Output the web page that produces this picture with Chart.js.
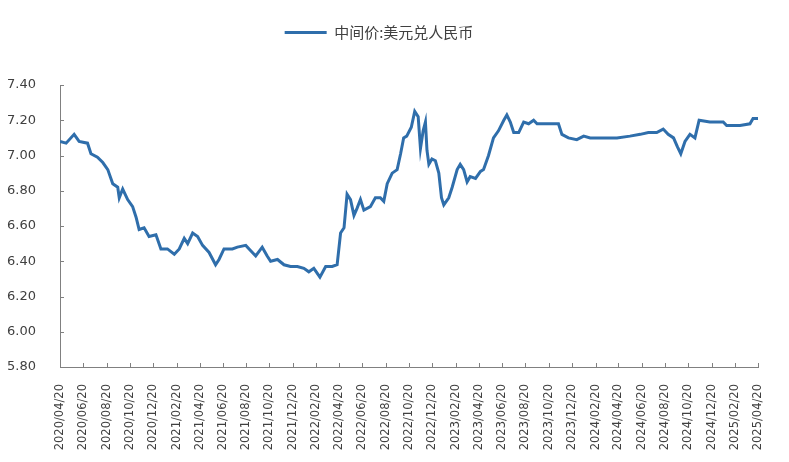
<!DOCTYPE html>
<html>
<head>
<meta charset="utf-8">
<script src="https://cdn.jsdelivr.net/npm/chart.js@4.4.1/dist/chart.umd.min.js"></script>
<style>
  body { margin: 0; background: #fff; }
  canvas { display: block; }
</style>
</head>
<body>
<canvas id="fx" width="789" height="462"></canvas>
<script>
// 中间价:美元兑人民币
var dates = [
  '2020/04/20','2020/05/06','2020/05/27','2020/06/09','2020/07/01','2020/07/10','2020/07/27','2020/08/10','2020/08/23','2020/09/05',
  '2020/09/18','2020/09/22','2020/10/01','2020/10/14','2020/10/27','2020/11/05','2020/11/13','2020/11/26','2020/12/09','2020/12/27',
  '2021/01/09','2021/01/26','2021/02/13','2021/02/26','2021/03/11','2021/03/20','2021/04/02','2021/04/15','2021/04/28','2021/05/15',
  '2021/06/01','2021/06/10','2021/06/23','2021/07/15','2021/07/28','2021/08/19','2021/09/01','2021/09/14','2021/10/01','2021/10/14',
  '2021/10/23','2021/11/10','2021/11/27','2021/12/14',
  '2022/01/01','2022/01/18','2022/01/31','2022/02/13','2022/03/01','2022/03/16','2022/04/02','2022/04/15','2022/04/24','2022/05/03',
  '2022/05/11','2022/05/20','2022/05/29','2022/06/06','2022/06/15','2022/06/24','2022/07/11','2022/07/24','2022/08/06','2022/08/15',
  '2022/08/24','2022/09/06','2022/09/19','2022/09/28','2022/10/06','2022/10/14','2022/10/26','2022/11/04','2022/11/13','2022/11/19',
  '2022/11/26','2022/12/02','2022/12/06','2022/12/11','2022/12/19','2022/12/28',
  '2023/01/06','2023/01/13','2023/01/19','2023/02/01','2023/02/10','2023/02/23','2023/03/03','2023/03/12','2023/03/21','2023/03/29',
  '2023/04/12','2023/04/25','2023/05/03','2023/05/16','2023/05/29','2023/06/11','2023/06/25','2023/07/03','2023/07/12','2023/07/21',
  '2023/08/03','2023/08/16','2023/08/29','2023/09/11','2023/09/20','2023/10/11','2023/11/15','2023/11/24','2023/12/11',
  '2024/01/02','2024/01/20','2024/02/06','2024/03/12','2024/04/16','2024/05/20','2024/06/16','2024/07/07','2024/07/29','2024/08/15',
  '2024/08/28','2024/09/11','2024/09/21','2024/09/30','2024/10/11','2024/10/24','2024/11/06','2024/11/17','2024/12/15',
  '2025/01/19','2025/01/28','2025/03/04','2025/03/30','2025/04/07','2025/04/20'
];

var rate = [
  7.08,7.07,7.12,7.08,7.07,7.01,6.99,6.96,6.92,6.84,
  6.82,6.76,6.81,6.75,6.71,6.65,6.58,6.59,6.54,6.55,
  6.47,6.47,6.44,6.47,6.53,6.50,6.56,6.54,6.49,6.45,
  6.38,6.41,6.47,6.47,6.48,6.49,6.46,6.43,6.48,6.43,
  6.40,6.41,6.38,6.37,
  6.37,6.36,6.34,6.36,6.31,6.37,6.37,6.38,6.56,6.59,
  6.78,6.75,6.66,6.70,6.75,6.69,6.71,6.76,6.76,6.74,
  6.84,6.90,6.92,7.01,7.10,7.11,7.16,7.25,7.22,7.04,
  7.14,7.19,7.03,6.95,6.98,6.97,
  6.90,6.76,6.72,6.76,6.82,6.92,6.95,6.92,6.85,6.88,
  6.87,6.91,6.92,7.00,7.10,7.14,7.20,7.23,7.19,7.13,
  7.13,7.19,7.18,7.20,7.18,7.18,7.18,7.12,7.10,
  7.09,7.11,7.10,7.10,7.10,7.11,7.12,7.13,7.13,7.15,
  7.12,7.10,7.05,7.01,7.08,7.12,7.10,7.20,7.19,
  7.19,7.17,7.17,7.18,7.21,7.21
];

var tickLabels = [
  '2020/04/20','2020/06/20','2020/08/20','2020/10/20','2020/12/20',
  '2021/02/20','2021/04/20','2021/06/20','2021/08/20','2021/10/20','2021/12/20',
  '2022/02/20','2022/04/20','2022/06/20','2022/08/20','2022/10/20','2022/12/20',
  '2023/02/20','2023/04/20','2023/06/20','2023/08/20','2023/10/20','2023/12/20',
  '2024/02/20','2024/04/20','2024/06/20','2024/08/20','2024/10/20','2024/12/20',
  '2025/02/20','2025/04/20'
];

var yTicks = [5.80, 6.00, 6.20, 6.40, 6.60, 6.80, 7.00, 7.20, 7.40];

var seriesName = '中间价:美元兑人民币';
var lineColor = '#2f6eab';
var axisColor = '#808080';
var textColor = '#404040';

// days since the first date, used as the x value
function dayOf(s) {
  var p = s.split('/').map(Number);
  return (Date.UTC(p[0], p[1] - 1, p[2]) - Date.UTC(2020, 3, 20)) / 86400000;
}

var points = dates.map(function (d, i) { return { x: dayOf(d), y: rate[i] }; });

// small tick marks pointing into the plot
var innerTicks = {
  id: 'innerTicks',
  afterDraw: function (chart) {
    var ctx = chart.ctx, a = chart.chartArea, x = chart.scales.x, y = chart.scales.y;
    ctx.save();
    ctx.strokeStyle = axisColor;
    ctx.lineWidth = 1;
    x.ticks.forEach(function (t) {
      var p = Math.round(x.getPixelForValue(t.value)) + 0.5;
      ctx.beginPath(); ctx.moveTo(p, a.bottom); ctx.lineTo(p, a.bottom - 4); ctx.stroke();
    });
    y.ticks.forEach(function (t) {
      var p = Math.round(y.getPixelForValue(t.value)) + 0.5;
      ctx.beginPath(); ctx.moveTo(a.left, p); ctx.lineTo(a.left + 4, p); ctx.stroke();
    });
    ctx.restore();
  }
};

// extra room under the legend
var legendGap = {
  id: 'legendGap',
  beforeInit: function (chart) {
    var fit = chart.legend.fit;
    chart.legend.fit = function () {
      fit.bind(chart.legend)();
      this.height += 35;
    };
  }
};

new Chart(document.getElementById('fx'), {
  type: 'line',
  data: {
    datasets: [{
      label: seriesName,
      data: points,
      borderColor: lineColor,
      backgroundColor: lineColor,
      borderWidth: 3,
      pointRadius: 0,
      tension: 0,
      fill: false
    }]
  },
  options: {
    responsive: false,
    animation: false,
    layout: { padding: { top: 15, right: 31, bottom: 0, left: 0 } },
    plugins: {
      tooltip: { enabled: false },
      legend: {
        position: 'top',
        labels: {
          boxWidth: 42,
          boxHeight: 3,
          padding: 10,
          color: textColor,
          font: { family: '"Noto Sans CJK SC", "DejaVu Sans"', size: 15 },
          generateLabels: function (chart) {
            return Chart.defaults.plugins.legend.labels.generateLabels(chart).map(function (l) {
              l.lineWidth = 0;
              l.fillStyle = lineColor;
              return l;
            });
          }
        }
      }
    },
    scales: {
      x: {
        type: 'linear',
        min: 0,
        max: dayOf(tickLabels[tickLabels.length - 1]),
        afterBuildTicks: function (s) {
          s.ticks = tickLabels.map(function (t) { return { value: dayOf(t) }; });
        },
        afterFit: function (s) { s.height = 95; },
        grid: { display: false },
        border: { display: true, color: axisColor, width: 1 },
        ticks: {
          autoSkip: false,
          minRotation: 90,
          maxRotation: 90,
          padding: 9,
          color: textColor,
          font: { family: '"DejaVu Sans"', size: 11.5 },
          callback: function (v, i) { return tickLabels[i]; }
        }
      },
      y: {
        min: 5.8,
        max: 7.4,
        afterBuildTicks: function (s) {
          s.ticks = yTicks.map(function (v) { return { value: v }; });
        },
        afterFit: function (s) { s.width = 60; },
        grid: { display: false },
        border: { display: true, color: axisColor, width: 1 },
        ticks: {
          padding: 16,
          color: textColor,
          font: { family: '"DejaVu Sans"', size: 13 },
          callback: function (v) { return Number(v).toFixed(2); }
        }
      }
    }
  },
  plugins: [innerTicks, legendGap]
});
</script>
</body>
</html>
